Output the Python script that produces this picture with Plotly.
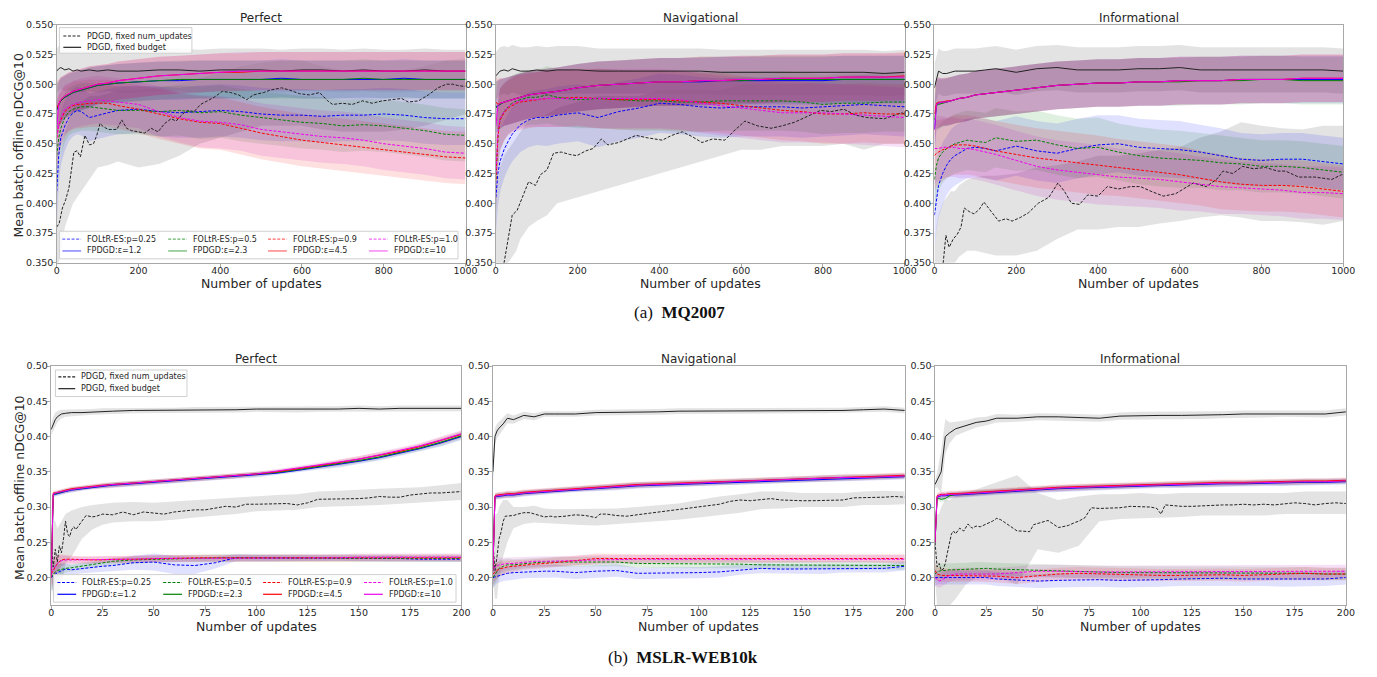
import plotly.graph_objects as go

# ============================ DATA ============================
X_TOP = [0, 5, 10, 20, 30, 40, 50, 60, 80, 100, 125, 150, 200, 250, 300, 350, 400, 450, 500, 550,
         600, 650, 700, 750, 800, 850, 900, 950, 1000]
X_BOT = [0, 1, 2, 3, 5, 7, 10, 15, 20, 25, 30, 40, 50, 60, 70, 80, 90, 100, 110, 120,
         130, 140, 150, 160, 170, 180, 190, 200]

X_TICKS_TOP = [0, 200, 400, 600, 800, 1000]
Y_TICKS_TOP = [0.350, 0.375, 0.400, 0.425, 0.450, 0.475, 0.500, 0.525, 0.550]
X_TICKS_BOT = [0, 25, 50, 75, 100, 125, 150, 175, 200]
Y_TICKS_BOT = [0.20, 0.25, 0.30, 0.35, 0.40, 0.45, 0.50]

PANEL_TITLES = ["Perfect", "Navigational", "Informational"]
PDGD_LABELS = ["PDGD, fixed num_updates", "PDGD, fixed budget"]
FOLTR_LABELS = ["FOLtR-ES:p=0.25", "FOLtR-ES:p=0.5", "FOLtR-ES:p=0.9", "FOLtR-ES:p=1.0"]
FPDGD_LABELS = ["FPDGD:ε=1.2", "FPDGD:ε=2.3", "FPDGD:ε=4.5", "FPDGD:ε=10"]
CAPTIONS = ["(a)  <b>MQ2007</b>", "(b)  <b>MSLR-WEB10k</b>"]
Y_LABEL = "Mean batch offline nDCG@10"
X_LABEL = "Number of updates"

# ---------- MQ2007 / Perfect ----------
mqp_budget = [0.511, 0.513, 0.514, 0.512, 0.513, 0.511, 0.512, 0.511, 0.512, 0.511,
              0.512, 0.511, 0.511, 0.512, 0.512, 0.511, 0.512, 0.512, 0.512, 0.511,
              0.512, 0.512, 0.511, 0.512, 0.511, 0.511, 0.512, 0.511, 0.511]
mqp_budget_sd = [0.019, 0.019, 0.018, 0.018, 0.018, 0.018, 0.018, 0.018, 0.018, 0.018,
                 0.018, 0.018, 0.018, 0.018, 0.018, 0.018, 0.018, 0.018, 0.018, 0.018,
                 0.018, 0.018, 0.018, 0.018, 0.018, 0.018, 0.018, 0.018, 0.018]
mqp_nu_x = [0, 6, 14, 22, 30, 42, 50, 58, 69, 80, 90, 98, 106, 115, 127, 147, 159, 171, 183, 199,
            215, 231, 248, 264, 280, 292, 308, 320, 336, 352, 369, 385, 405, 425, 445, 465, 481, 506, 522, 550,
            570, 594, 618, 643, 663, 675, 699, 723, 748, 772, 796, 820, 844, 860, 885, 909, 933, 953, 969, 980,
            1000]
mqp_nu_y = [0.380, 0.383, 0.396, 0.403, 0.413, 0.443, 0.444, 0.439, 0.457, 0.449,
            0.450, 0.457, 0.467, 0.464, 0.462, 0.462, 0.470, 0.463, 0.461, 0.460,
            0.459, 0.463, 0.460, 0.467, 0.471, 0.469, 0.475, 0.478, 0.477, 0.483,
            0.486, 0.489, 0.494, 0.493, 0.491, 0.487, 0.491, 0.493, 0.495, 0.497,
            0.495, 0.492, 0.491, 0.493, 0.486, 0.483, 0.484, 0.483, 0.486, 0.484,
            0.486, 0.487, 0.488, 0.485, 0.486, 0.491, 0.497, 0.500, 0.500, 0.499,
            0.498]
mqp_nu_lo = [0.350, 0.350, 0.360, 0.380, 0.390, 0.400, 0.405, 0.410, 0.420, 0.430,
             0.432, 0.435, 0.430, 0.433, 0.440, 0.450, 0.455, 0.460, 0.465, 0.465,
             0.465, 0.462, 0.460, 0.460, 0.460, 0.462, 0.465, 0.470, 0.475]
mqp_nu_hi = [0.420, 0.430, 0.440, 0.460, 0.470, 0.480, 0.485, 0.485, 0.490, 0.490,
             0.492, 0.495, 0.495, 0.497, 0.500, 0.505, 0.510, 0.515, 0.518, 0.520,
             0.520, 0.515, 0.512, 0.510, 0.510, 0.512, 0.515, 0.520, 0.522]
mqp_fp_blue = [0.478, 0.483, 0.486, 0.489, 0.491, 0.493, 0.494, 0.495, 0.497, 0.499,
               0.500, 0.501, 0.502, 0.503, 0.503, 0.504, 0.504, 0.504, 0.504, 0.505,
               0.504, 0.504, 0.504, 0.504, 0.504, 0.505, 0.504, 0.504, 0.504]
mqp_fp_green = [0.479, 0.483, 0.486, 0.489, 0.491, 0.493, 0.494, 0.495, 0.497, 0.499,
                0.500, 0.501, 0.502, 0.503, 0.504, 0.504, 0.504, 0.504, 0.504, 0.504,
                0.504, 0.504, 0.504, 0.505, 0.504, 0.504, 0.504, 0.504, 0.504]
mqp_fp_red = [0.480, 0.484, 0.487, 0.490, 0.492, 0.494, 0.495, 0.496, 0.498, 0.500,
              0.501, 0.503, 0.505, 0.507, 0.508, 0.509, 0.510, 0.510, 0.511, 0.511,
              0.511, 0.511, 0.511, 0.511, 0.511, 0.511, 0.511, 0.511, 0.511]
mqp_fp_mag = [0.462, 0.483, 0.487, 0.490, 0.492, 0.494, 0.495, 0.496, 0.498, 0.500,
              0.501, 0.503, 0.505, 0.507, 0.508, 0.509, 0.510, 0.511, 0.511, 0.511,
              0.511, 0.511, 0.511, 0.511, 0.511, 0.511, 0.511, 0.511, 0.511]
mqp_fp_sd = [0.022, 0.020, 0.019, 0.018, 0.018, 0.017, 0.017, 0.017, 0.017, 0.016,
             0.016, 0.016, 0.016, 0.016, 0.016, 0.016, 0.016, 0.016, 0.016, 0.016,
             0.016, 0.016, 0.016, 0.016, 0.016, 0.016, 0.016, 0.016, 0.016]
mqp_fo_blue = [0.410, 0.440, 0.455, 0.465, 0.472, 0.476, 0.478, 0.477, 0.472, 0.474,
               0.476, 0.478, 0.479, 0.477, 0.476, 0.477, 0.478, 0.477, 0.475, 0.474,
               0.474, 0.473, 0.474, 0.474, 0.475, 0.474, 0.472, 0.471, 0.471]
mqp_fo_green = [0.440, 0.455, 0.463, 0.472, 0.477, 0.479, 0.480, 0.481, 0.481, 0.480,
                0.479, 0.478, 0.478, 0.477, 0.478, 0.476, 0.477, 0.474, 0.472, 0.470,
                0.468, 0.467, 0.465, 0.466, 0.465, 0.463, 0.461, 0.458, 0.457]
mqp_fo_red = [0.455, 0.465, 0.470, 0.477, 0.480, 0.482, 0.483, 0.483, 0.484, 0.484,
              0.484, 0.482, 0.479, 0.475, 0.471, 0.468, 0.467, 0.463, 0.459, 0.456,
              0.453, 0.451, 0.449, 0.447, 0.445, 0.443, 0.441, 0.439, 0.438]
mqp_fo_mag = [0.455, 0.466, 0.472, 0.479, 0.481, 0.483, 0.484, 0.485, 0.486, 0.487,
              0.486, 0.485, 0.483, 0.477, 0.472, 0.469, 0.468, 0.466, 0.462, 0.460,
              0.458, 0.456, 0.455, 0.453, 0.450, 0.448, 0.446, 0.443, 0.442]
mqp_fo_sd = [0.030, 0.026, 0.023, 0.021, 0.020, 0.020, 0.020, 0.020, 0.020, 0.020,
             0.020, 0.020, 0.020, 0.021, 0.021, 0.022, 0.022, 0.022, 0.022, 0.022,
             0.022, 0.022, 0.022, 0.022, 0.022, 0.022, 0.022, 0.022, 0.022]

# ---------- MQ2007 / Navigational ----------
mqn_budget = [0.507, 0.509, 0.511, 0.512, 0.511, 0.513, 0.512, 0.511, 0.511, 0.512,
              0.511, 0.512, 0.512, 0.511, 0.511, 0.511, 0.511, 0.511, 0.511, 0.510,
              0.510, 0.510, 0.510, 0.510, 0.510, 0.510, 0.510, 0.509, 0.510]
mqn_budget_sd = [0.020, 0.020, 0.020, 0.020, 0.020, 0.020, 0.020, 0.020, 0.020, 0.020,
                 0.020, 0.020, 0.020, 0.019, 0.019, 0.019, 0.019, 0.019, 0.019, 0.019,
                 0.019, 0.019, 0.019, 0.019, 0.019, 0.019, 0.019, 0.019, 0.019]
mqn_nu_x = [0, 10, 20, 40, 52, 65, 80, 97, 109, 125, 141, 160, 180, 198, 220, 238, 258, 274, 300, 343,
            370, 407, 430, 456, 480, 504, 530, 560, 580, 609, 640, 673, 700, 730, 760, 794, 820, 851, 880, 907,
            950, 992, 1000]
mqn_nu_y = [0.300, 0.330, 0.350, 0.390, 0.394, 0.405, 0.418, 0.415, 0.424, 0.428,
            0.442, 0.443, 0.441, 0.440, 0.444, 0.446, 0.454, 0.449, 0.451, 0.457,
            0.455, 0.453, 0.457, 0.460, 0.456, 0.451, 0.454, 0.453, 0.460, 0.469,
            0.465, 0.463, 0.465, 0.468, 0.473, 0.478, 0.477, 0.479, 0.474, 0.472,
            0.471, 0.476, 0.475]
mqn_nu_lo = [0.280, 0.300, 0.320, 0.340, 0.350, 0.355, 0.360, 0.370, 0.380, 0.385,
             0.390, 0.400, 0.405, 0.410, 0.415, 0.420, 0.425, 0.430, 0.435, 0.440,
             0.445, 0.445, 0.448, 0.448, 0.448, 0.450, 0.445, 0.450, 0.450]
mqn_nu_hi = [0.400, 0.420, 0.430, 0.440, 0.445, 0.450, 0.455, 0.460, 0.470, 0.470,
             0.475, 0.480, 0.485, 0.490, 0.490, 0.490, 0.495, 0.495, 0.495, 0.495,
             0.500, 0.500, 0.500, 0.500, 0.505, 0.505, 0.505, 0.505, 0.505]
mqn_fp_blue = [0.481, 0.482, 0.483, 0.485, 0.486, 0.487, 0.488, 0.489, 0.491, 0.492,
               0.493, 0.494, 0.497, 0.499, 0.500, 0.501, 0.502, 0.502, 0.502, 0.503,
               0.503, 0.503, 0.503, 0.503, 0.503, 0.504, 0.504, 0.504, 0.504]
mqn_fp_green = [0.480, 0.482, 0.483, 0.485, 0.486, 0.487, 0.488, 0.489, 0.491, 0.492,
                0.493, 0.494, 0.497, 0.499, 0.500, 0.501, 0.502, 0.502, 0.503, 0.503,
                0.503, 0.504, 0.504, 0.504, 0.504, 0.504, 0.504, 0.504, 0.504]
mqn_fp_red = [0.485, 0.483, 0.484, 0.485, 0.486, 0.487, 0.488, 0.489, 0.491, 0.492,
              0.493, 0.494, 0.497, 0.499, 0.500, 0.501, 0.502, 0.502, 0.503, 0.503,
              0.504, 0.504, 0.505, 0.505, 0.505, 0.506, 0.506, 0.506, 0.507]
mqn_fp_mag = [0.465, 0.482, 0.484, 0.485, 0.486, 0.487, 0.488, 0.489, 0.491, 0.492,
              0.493, 0.494, 0.497, 0.499, 0.500, 0.501, 0.502, 0.502, 0.503, 0.503,
              0.504, 0.504, 0.505, 0.505, 0.505, 0.506, 0.506, 0.506, 0.506]
mqn_fp_sd = [0.022, 0.021, 0.021, 0.020, 0.020, 0.020, 0.020, 0.020, 0.020, 0.020,
             0.020, 0.020, 0.020, 0.020, 0.020, 0.020, 0.020, 0.020, 0.020, 0.020,
             0.020, 0.020, 0.020, 0.020, 0.020, 0.020, 0.020, 0.020, 0.020]
mqn_fo_blue = [0.405, 0.425, 0.435, 0.445, 0.452, 0.458, 0.462, 0.466, 0.470, 0.472,
               0.472, 0.474, 0.476, 0.472, 0.477, 0.480, 0.484, 0.483, 0.481, 0.480,
               0.481, 0.481, 0.481, 0.480, 0.481, 0.482, 0.483, 0.482, 0.481]
mqn_fo_green = [0.420, 0.455, 0.470, 0.477, 0.481, 0.484, 0.486, 0.487, 0.489, 0.489,
                0.491, 0.489, 0.487, 0.488, 0.487, 0.486, 0.486, 0.485, 0.485, 0.486,
                0.486, 0.486, 0.486, 0.485, 0.483, 0.484, 0.484, 0.485, 0.485]
mqn_fo_red = [0.420, 0.455, 0.470, 0.476, 0.480, 0.482, 0.484, 0.485, 0.486, 0.487,
              0.488, 0.488, 0.489, 0.488, 0.487, 0.487, 0.487, 0.486, 0.485, 0.484,
              0.482, 0.480, 0.478, 0.477, 0.475, 0.475, 0.476, 0.475, 0.475]
mqn_fo_mag = [0.425, 0.458, 0.471, 0.477, 0.481, 0.483, 0.485, 0.486, 0.487, 0.487,
              0.488, 0.488, 0.488, 0.488, 0.488, 0.488, 0.488, 0.487, 0.484, 0.482,
              0.480, 0.478, 0.476, 0.476, 0.476, 0.475, 0.474, 0.473, 0.472]
mqn_fo_sd = [0.030, 0.028, 0.026, 0.024, 0.023, 0.023, 0.023, 0.023, 0.023, 0.023,
             0.024, 0.024, 0.024, 0.025, 0.025, 0.025, 0.025, 0.025, 0.025, 0.025,
             0.025, 0.025, 0.025, 0.025, 0.025, 0.025, 0.025, 0.025, 0.025]

# ---------- MQ2007 / Informational ----------
mqi_budget = [0.497, 0.505, 0.511, 0.509, 0.509, 0.510, 0.511, 0.511, 0.511, 0.511,
              0.512, 0.513, 0.510, 0.513, 0.514, 0.512, 0.512, 0.512, 0.513, 0.513,
              0.514, 0.512, 0.512, 0.512, 0.512, 0.512, 0.512, 0.512, 0.511]
mqi_budget_sd = [0.020, 0.019, 0.019, 0.019, 0.019, 0.019, 0.019, 0.019, 0.019, 0.019,
                 0.019, 0.019, 0.019, 0.019, 0.019, 0.019, 0.019, 0.019, 0.019, 0.019,
                 0.019, 0.019, 0.019, 0.019, 0.019, 0.019, 0.019, 0.019, 0.019]
mqi_nu_x = [0, 10, 20, 28, 36, 46, 56, 65, 73, 85, 97, 110, 121, 135, 157, 175, 190, 210, 230, 254,
            280, 302, 318, 335, 355, 375, 400, 423, 450, 480, 504, 530, 560, 590, 633, 665, 690, 706, 730, 754,
            780, 810, 840, 859, 891, 930, 972, 996, 1000]
mqi_nu_y = [0.300, 0.320, 0.345, 0.373, 0.363, 0.370, 0.374, 0.380, 0.396, 0.393,
            0.391, 0.395, 0.401, 0.395, 0.385, 0.387, 0.385, 0.388, 0.392, 0.400,
            0.405, 0.417, 0.410, 0.400, 0.399, 0.407, 0.406, 0.414, 0.412, 0.414,
            0.414, 0.410, 0.406, 0.408, 0.417, 0.414, 0.420, 0.427, 0.425, 0.431,
            0.429, 0.430, 0.427, 0.427, 0.422, 0.422, 0.420, 0.424, 0.424]
mqi_nu_lo = [0.250, 0.280, 0.300, 0.330, 0.340, 0.350, 0.350, 0.355, 0.360, 0.360,
             0.358, 0.356, 0.356, 0.360, 0.370, 0.378, 0.378, 0.380, 0.380, 0.383,
             0.385, 0.388, 0.390, 0.388, 0.385, 0.385, 0.384, 0.382, 0.385]
mqi_nu_hi = [0.360, 0.380, 0.390, 0.400, 0.405, 0.410, 0.410, 0.415, 0.420, 0.422,
             0.423, 0.423, 0.425, 0.430, 0.432, 0.435, 0.440, 0.440, 0.442, 0.445,
             0.447, 0.455, 0.460, 0.468, 0.465, 0.463, 0.462, 0.465, 0.465]
mqi_fp_blue = [0.462, 0.483, 0.484, 0.485, 0.485, 0.486, 0.487, 0.488, 0.489, 0.491,
               0.492, 0.493, 0.495, 0.497, 0.499, 0.500, 0.501, 0.501, 0.502, 0.502,
               0.503, 0.503, 0.503, 0.504, 0.504, 0.504, 0.504, 0.504, 0.504]
mqi_fp_green = [0.470, 0.482, 0.483, 0.484, 0.485, 0.486, 0.487, 0.488, 0.489, 0.491,
                0.492, 0.493, 0.495, 0.497, 0.499, 0.500, 0.501, 0.501, 0.502, 0.502,
                0.502, 0.503, 0.503, 0.503, 0.504, 0.504, 0.503, 0.503, 0.503]
mqi_fp_red = [0.475, 0.484, 0.485, 0.485, 0.486, 0.486, 0.487, 0.488, 0.489, 0.491,
              0.492, 0.493, 0.495, 0.497, 0.499, 0.500, 0.501, 0.501, 0.502, 0.502,
              0.503, 0.503, 0.503, 0.504, 0.504, 0.504, 0.505, 0.505, 0.505]
mqi_fp_mag = [0.462, 0.483, 0.484, 0.485, 0.485, 0.486, 0.487, 0.488, 0.489, 0.491,
              0.492, 0.493, 0.495, 0.497, 0.499, 0.500, 0.501, 0.501, 0.502, 0.502,
              0.503, 0.503, 0.503, 0.504, 0.504, 0.504, 0.505, 0.505, 0.505]
mqi_fp_sd = [0.022, 0.021, 0.021, 0.020, 0.020, 0.020, 0.020, 0.020, 0.020, 0.020,
             0.020, 0.020, 0.020, 0.020, 0.020, 0.020, 0.020, 0.020, 0.020, 0.020,
             0.020, 0.020, 0.020, 0.020, 0.020, 0.020, 0.020, 0.020, 0.020]
mqi_fo_blue = [0.390, 0.405, 0.415, 0.425, 0.432, 0.437, 0.440, 0.442, 0.446, 0.447,
               0.446, 0.444, 0.448, 0.444, 0.442, 0.446, 0.449, 0.450, 0.447, 0.446,
               0.445, 0.443, 0.440, 0.437, 0.436, 0.437, 0.437, 0.435, 0.433]
mqi_fo_green = [0.420, 0.432, 0.438, 0.443, 0.446, 0.448, 0.450, 0.451, 0.453, 0.452,
                0.451, 0.455, 0.452, 0.453, 0.449, 0.446, 0.447, 0.443, 0.440, 0.438,
                0.437, 0.436, 0.434, 0.433, 0.431, 0.431, 0.430, 0.428, 0.426]
mqi_fo_red = [0.440, 0.442, 0.443, 0.445, 0.446, 0.448, 0.449, 0.449, 0.449, 0.448,
              0.446, 0.444, 0.441, 0.438, 0.436, 0.434, 0.432, 0.430, 0.428, 0.426,
              0.424, 0.421, 0.418, 0.416, 0.415, 0.415, 0.414, 0.412, 0.410]
mqi_fo_mag = [0.446, 0.446, 0.446, 0.447, 0.447, 0.447, 0.447, 0.446, 0.446, 0.445,
              0.443, 0.441, 0.436, 0.431, 0.428, 0.426, 0.424, 0.422, 0.421, 0.420,
              0.418, 0.416, 0.414, 0.413, 0.412, 0.411, 0.409, 0.409, 0.408]
mqi_fo_sd = [0.030, 0.028, 0.027, 0.026, 0.025, 0.025, 0.025, 0.025, 0.025, 0.025,
             0.025, 0.025, 0.025, 0.025, 0.025, 0.025, 0.025, 0.024, 0.024, 0.024,
             0.024, 0.023, 0.023, 0.022, 0.022, 0.022, 0.022, 0.022, 0.022]

# ---------- MSLR-WEB10k / Perfect ----------
msp_budget = [0.410, 0.418, 0.424, 0.428, 0.432, 0.433, 0.434, 0.434, 0.435, 0.436,
              0.436, 0.437, 0.437, 0.437, 0.438, 0.438, 0.438, 0.439, 0.439, 0.438,
              0.439, 0.439, 0.440, 0.439, 0.440, 0.440, 0.440, 0.440]
msp_budget_sd = [0.008, 0.010, 0.010, 0.008, 0.006, 0.005, 0.005, 0.004, 0.004, 0.004,
                 0.004, 0.004, 0.004, 0.004, 0.004, 0.004, 0.004, 0.004, 0.004, 0.004,
                 0.004, 0.004, 0.004, 0.004, 0.004, 0.004, 0.004, 0.004]
msp_nu_x = [0, 1, 2, 3, 4, 5, 6, 7, 8, 9, 10, 11, 12, 14, 17, 20, 22, 25, 30, 35,
            40, 45, 50, 55, 60, 65, 70, 75, 80, 85, 90, 95, 100, 105, 110, 115, 120, 125, 130, 135,
            140, 145, 150, 155, 160, 165, 170, 175, 180, 185, 190, 195, 200]
msp_nu_y = [0.250, 0.215, 0.240, 0.222, 0.245, 0.235, 0.255, 0.280, 0.262, 0.258,
            0.268, 0.272, 0.268, 0.276, 0.288, 0.286, 0.287, 0.290, 0.289, 0.293,
            0.289, 0.293, 0.291, 0.290, 0.293, 0.295, 0.296, 0.296, 0.298, 0.301,
            0.300, 0.304, 0.304, 0.304, 0.305, 0.305, 0.303, 0.306, 0.311, 0.311,
            0.311, 0.312, 0.312, 0.313, 0.315, 0.314, 0.314, 0.317, 0.319, 0.320,
            0.320, 0.321, 0.322]
msp_nu_lo = [0.200, 0.170, 0.170, 0.170, 0.190, 0.220, 0.230, 0.255, 0.268, 0.275,
             0.278, 0.280, 0.280, 0.282, 0.285, 0.288, 0.290, 0.294, 0.295, 0.296,
             0.300, 0.301, 0.302, 0.303, 0.304, 0.306, 0.308, 0.310]
msp_nu_hi = [0.300, 0.280, 0.280, 0.270, 0.280, 0.290, 0.295, 0.300, 0.303, 0.305,
             0.306, 0.307, 0.306, 0.308, 0.310, 0.312, 0.314, 0.316, 0.317, 0.318,
             0.322, 0.323, 0.325, 0.326, 0.327, 0.328, 0.331, 0.334]
msp_fp_blue = [0.200, 0.317, 0.318, 0.319, 0.320, 0.322, 0.324, 0.326, 0.328, 0.330,
               0.331, 0.333, 0.335, 0.337, 0.339, 0.341, 0.343, 0.345, 0.348, 0.352,
               0.356, 0.360, 0.365, 0.370, 0.376, 0.383, 0.391, 0.400]
msp_fp_green = [0.200, 0.318, 0.319, 0.320, 0.321, 0.323, 0.325, 0.327, 0.329, 0.331,
                0.332, 0.334, 0.336, 0.338, 0.340, 0.342, 0.344, 0.346, 0.349, 0.353,
                0.357, 0.361, 0.366, 0.371, 0.377, 0.384, 0.392, 0.401]
msp_fp_red = [0.200, 0.320, 0.320, 0.321, 0.322, 0.324, 0.326, 0.328, 0.330, 0.331,
              0.332, 0.334, 0.336, 0.338, 0.340, 0.342, 0.344, 0.347, 0.350, 0.354,
              0.358, 0.363, 0.368, 0.373, 0.379, 0.386, 0.394, 0.403]
msp_fp_mag = [0.200, 0.319, 0.320, 0.321, 0.322, 0.323, 0.325, 0.327, 0.329, 0.331,
              0.332, 0.334, 0.336, 0.338, 0.340, 0.342, 0.344, 0.347, 0.351, 0.355,
              0.359, 0.363, 0.368, 0.374, 0.380, 0.387, 0.395, 0.404]
msp_fp_sd = [0.005, 0.003, 0.003, 0.003, 0.003, 0.003, 0.003, 0.003, 0.003, 0.003,
             0.003, 0.003, 0.003, 0.003, 0.003, 0.003, 0.003, 0.003, 0.003, 0.003,
             0.003, 0.004, 0.004, 0.004, 0.004, 0.004, 0.005, 0.005]
msp_fo_blue = [0.200, 0.203, 0.205, 0.207, 0.210, 0.212, 0.211, 0.213, 0.215, 0.216,
               0.217, 0.221, 0.222, 0.218, 0.217, 0.221, 0.228, 0.228, 0.228, 0.228,
               0.228, 0.228, 0.227, 0.227, 0.227, 0.226, 0.226, 0.226]
msp_fo_green = [0.200, 0.205, 0.208, 0.210, 0.212, 0.213, 0.214, 0.216, 0.219, 0.221,
                0.223, 0.225, 0.226, 0.227, 0.228, 0.228, 0.228, 0.228, 0.228, 0.228,
                0.228, 0.228, 0.228, 0.228, 0.228, 0.227, 0.227, 0.227]
msp_fo_red = [0.205, 0.210, 0.215, 0.220, 0.225, 0.226, 0.226, 0.225, 0.225, 0.225,
              0.226, 0.226, 0.227, 0.227, 0.228, 0.228, 0.228, 0.228, 0.228, 0.228,
              0.228, 0.228, 0.228, 0.228, 0.228, 0.228, 0.228, 0.228]
msp_fo_mag = [0.208, 0.212, 0.216, 0.220, 0.224, 0.225, 0.225, 0.225, 0.225, 0.226,
              0.226, 0.226, 0.227, 0.227, 0.228, 0.228, 0.228, 0.228, 0.228, 0.228,
              0.228, 0.228, 0.229, 0.229, 0.229, 0.229, 0.229, 0.229]
msp_fo_sd = [0.020, 0.018, 0.015, 0.012, 0.008, 0.006, 0.005, 0.005, 0.005, 0.005,
             0.005, 0.005, 0.005, 0.005, 0.005, 0.005, 0.005, 0.005, 0.005, 0.005,
             0.005, 0.005, 0.005, 0.005, 0.005, 0.005, 0.005, 0.005]
msp_fo_blue_sd = [0.020, 0.018, 0.015, 0.012, 0.010, 0.008, 0.007, 0.007, 0.007, 0.008,
                  0.008, 0.010, 0.012, 0.013, 0.012, 0.008, 0.005, 0.004, 0.004, 0.004,
                  0.004, 0.004, 0.004, 0.004, 0.004, 0.004, 0.004, 0.004]

# ---------- MSLR-WEB10k / Navigational ----------
msn_budget = [0.350, 0.400, 0.408, 0.412, 0.418, 0.426, 0.424, 0.430, 0.428, 0.432,
              0.432, 0.432, 0.434, 0.434, 0.435, 0.435, 0.436, 0.436, 0.436, 0.436,
              0.436, 0.437, 0.437, 0.437, 0.437, 0.438, 0.439, 0.437]
msn_budget_sd = [0.020, 0.012, 0.010, 0.009, 0.008, 0.007, 0.006, 0.005, 0.005, 0.004,
                 0.004, 0.004, 0.004, 0.004, 0.004, 0.004, 0.004, 0.004, 0.004, 0.004,
                 0.004, 0.004, 0.004, 0.004, 0.004, 0.004, 0.004, 0.004]
msn_nu_x = [0, 1, 2, 3, 4, 5, 6, 8, 10, 12, 15, 18, 20, 22, 25, 28, 30, 35, 40, 45,
            50, 52, 55, 60, 65, 70, 75, 80, 85, 90, 95, 100, 105, 110, 115, 120, 125, 130, 135, 140,
            145, 150, 155, 160, 165, 170, 175, 180, 185, 190, 195, 200]
msn_nu_y = [0.250, 0.210, 0.230, 0.255, 0.265, 0.280, 0.287, 0.287, 0.288, 0.290,
            0.292, 0.292, 0.290, 0.288, 0.286, 0.287, 0.286, 0.287, 0.289, 0.288,
            0.285, 0.290, 0.290, 0.288, 0.287, 0.289, 0.291, 0.292, 0.295, 0.296,
            0.298, 0.300, 0.302, 0.304, 0.308, 0.310, 0.309, 0.310, 0.312, 0.310,
            0.309, 0.309, 0.309, 0.309, 0.309, 0.310, 0.313, 0.313, 0.314, 0.314,
            0.315, 0.314]
msn_nu_lo = [0.200, 0.170, 0.170, 0.200, 0.230, 0.250, 0.270, 0.276, 0.278, 0.278,
             0.277, 0.275, 0.274, 0.276, 0.278, 0.280, 0.282, 0.285, 0.288, 0.292,
             0.297, 0.298, 0.300, 0.300, 0.300, 0.303, 0.303, 0.304]
msn_nu_hi = [0.300, 0.290, 0.290, 0.300, 0.310, 0.310, 0.300, 0.300, 0.302, 0.298,
             0.297, 0.297, 0.298, 0.298, 0.300, 0.302, 0.305, 0.310, 0.315, 0.318,
             0.322, 0.322, 0.320, 0.320, 0.320, 0.322, 0.323, 0.322]
msn_fp_blue = [0.210, 0.314, 0.315, 0.315, 0.316, 0.317, 0.317, 0.319, 0.320, 0.322,
               0.323, 0.325, 0.327, 0.328, 0.330, 0.331, 0.332, 0.334, 0.335, 0.336,
               0.337, 0.338, 0.339, 0.340, 0.341, 0.341, 0.342, 0.343]
msn_fp_green = [0.210, 0.315, 0.316, 0.316, 0.317, 0.318, 0.318, 0.320, 0.321, 0.323,
                0.324, 0.326, 0.328, 0.329, 0.331, 0.332, 0.333, 0.335, 0.336, 0.337,
                0.338, 0.339, 0.340, 0.341, 0.342, 0.342, 0.343, 0.344]
msn_fp_red = [0.210, 0.316, 0.317, 0.317, 0.318, 0.319, 0.319, 0.321, 0.322, 0.324,
              0.325, 0.327, 0.329, 0.330, 0.332, 0.333, 0.334, 0.336, 0.337, 0.338,
              0.339, 0.340, 0.341, 0.342, 0.343, 0.343, 0.344, 0.345]
msn_fp_mag = [0.210, 0.315, 0.316, 0.316, 0.317, 0.318, 0.318, 0.320, 0.321, 0.323,
              0.324, 0.326, 0.328, 0.329, 0.331, 0.332, 0.333, 0.335, 0.336, 0.337,
              0.338, 0.339, 0.340, 0.341, 0.342, 0.342, 0.343, 0.344]
msn_fp_sd = [0.010, 0.004, 0.004, 0.004, 0.004, 0.004, 0.004, 0.004, 0.004, 0.004,
             0.004, 0.004, 0.004, 0.004, 0.004, 0.004, 0.004, 0.004, 0.004, 0.004,
             0.004, 0.004, 0.004, 0.004, 0.004, 0.004, 0.004, 0.004]
msn_fo_blue = [0.200, 0.201, 0.202, 0.203, 0.205, 0.206, 0.207, 0.208, 0.208, 0.209,
               0.209, 0.207, 0.209, 0.210, 0.206, 0.206, 0.207, 0.207, 0.208, 0.211,
               0.213, 0.212, 0.212, 0.212, 0.213, 0.213, 0.213, 0.216]
msn_fo_green = [0.200, 0.205, 0.210, 0.213, 0.216, 0.218, 0.218, 0.220, 0.221, 0.222,
                0.222, 0.222, 0.223, 0.222, 0.220, 0.220, 0.220, 0.220, 0.219, 0.219,
                0.218, 0.218, 0.218, 0.218, 0.217, 0.217, 0.217, 0.217]
msn_fo_red = [0.205, 0.208, 0.210, 0.212, 0.214, 0.215, 0.216, 0.218, 0.219, 0.220,
              0.221, 0.224, 0.227, 0.227, 0.227, 0.227, 0.227, 0.227, 0.227, 0.227,
              0.228, 0.228, 0.228, 0.228, 0.228, 0.228, 0.228, 0.227]
msn_fo_mag = [0.213, 0.215, 0.217, 0.218, 0.219, 0.220, 0.220, 0.222, 0.223, 0.223,
              0.223, 0.224, 0.225, 0.226, 0.226, 0.226, 0.226, 0.226, 0.226, 0.226,
              0.226, 0.226, 0.227, 0.227, 0.227, 0.227, 0.227, 0.226]
msn_fo_sd = [0.015, 0.013, 0.012, 0.011, 0.010, 0.009, 0.008, 0.007, 0.007, 0.007,
             0.007, 0.007, 0.007, 0.006, 0.006, 0.006, 0.006, 0.006, 0.006, 0.006,
             0.006, 0.006, 0.006, 0.006, 0.006, 0.006, 0.006, 0.006]
msn_fo_blue_sd = [0.015, 0.012, 0.010, 0.010, 0.010, 0.010, 0.010, 0.009, 0.009, 0.009,
                  0.009, 0.009, 0.009, 0.009, 0.008, 0.008, 0.008, 0.008, 0.008, 0.007,
                  0.007, 0.007, 0.007, 0.007, 0.006, 0.006, 0.006, 0.006]

# ---------- MSLR-WEB10k / Informational ----------
msi_budget = [0.332, 0.338, 0.345, 0.350, 0.400, 0.405, 0.411, 0.415, 0.420, 0.422,
              0.426, 0.426, 0.428, 0.428, 0.427, 0.426, 0.429, 0.430, 0.430, 0.430,
              0.430, 0.431, 0.432, 0.432, 0.433, 0.433, 0.432, 0.435]
msi_budget_sd = [0.005, 0.010, 0.020, 0.030, 0.025, 0.015, 0.010, 0.008, 0.007, 0.006,
                 0.006, 0.005, 0.005, 0.005, 0.005, 0.005, 0.005, 0.005, 0.005, 0.005,
                 0.005, 0.005, 0.005, 0.005, 0.005, 0.005, 0.005, 0.005]
msi_nu_x = [0, 1, 2, 3, 4, 5, 6, 7, 8, 9, 10, 12, 14, 16, 18, 20, 22, 25, 28, 30,
            32, 34, 36, 38, 40, 42, 44, 46, 48, 50, 52, 55, 58, 60, 62, 65, 68, 70, 73, 76,
            80, 85, 90, 95, 100, 105, 108, 110, 112, 115, 120, 125, 130, 135, 140, 145, 150, 155, 160, 165,
            170, 175, 180, 185, 190, 195, 200]
msi_nu_y = [0.250, 0.215, 0.220, 0.210, 0.212, 0.220, 0.235, 0.250, 0.262, 0.266,
            0.262, 0.270, 0.266, 0.276, 0.270, 0.273, 0.272, 0.276, 0.280, 0.284,
            0.282, 0.278, 0.274, 0.270, 0.266, 0.266, 0.265, 0.265, 0.275, 0.277,
            0.279, 0.281, 0.275, 0.271, 0.272, 0.274, 0.278, 0.280, 0.285, 0.299,
            0.298, 0.298, 0.299, 0.301, 0.301, 0.300, 0.298, 0.290, 0.303, 0.302,
            0.301, 0.301, 0.302, 0.303, 0.303, 0.303, 0.304, 0.303, 0.304, 0.303,
            0.304, 0.306, 0.305, 0.303, 0.305, 0.306, 0.305]
msi_nu_lo = [0.200, 0.160, 0.160, 0.160, 0.160, 0.160, 0.170, 0.190, 0.200, 0.200,
             0.200, 0.190, 0.240, 0.235, 0.245, 0.280, 0.283, 0.285, 0.285, 0.286,
             0.288, 0.288, 0.288, 0.288, 0.290, 0.290, 0.290, 0.290]
msi_nu_hi = [0.300, 0.290, 0.290, 0.300, 0.310, 0.310, 0.315, 0.320, 0.325, 0.330,
             0.335, 0.345, 0.320, 0.310, 0.315, 0.318, 0.318, 0.320, 0.318, 0.320,
             0.320, 0.320, 0.320, 0.320, 0.320, 0.322, 0.322, 0.322]
msi_fp_blue = [0.250, 0.314, 0.315, 0.316, 0.316, 0.317, 0.317, 0.318, 0.319, 0.320,
               0.321, 0.323, 0.325, 0.326, 0.327, 0.328, 0.329, 0.330, 0.331, 0.331,
               0.332, 0.333, 0.333, 0.334, 0.334, 0.335, 0.335, 0.336]
msi_fp_green = [0.250, 0.313, 0.312, 0.311, 0.312, 0.316, 0.318, 0.319, 0.320, 0.321,
                0.322, 0.324, 0.326, 0.327, 0.328, 0.329, 0.330, 0.331, 0.332, 0.332,
                0.333, 0.334, 0.334, 0.335, 0.335, 0.336, 0.336, 0.337]
msi_fp_red = [0.250, 0.316, 0.317, 0.318, 0.318, 0.319, 0.319, 0.320, 0.321, 0.322,
              0.323, 0.325, 0.327, 0.328, 0.329, 0.330, 0.331, 0.332, 0.333, 0.333,
              0.334, 0.335, 0.335, 0.336, 0.336, 0.337, 0.337, 0.338]
msi_fp_mag = [0.250, 0.315, 0.316, 0.317, 0.317, 0.318, 0.318, 0.319, 0.320, 0.321,
              0.322, 0.324, 0.326, 0.327, 0.328, 0.329, 0.330, 0.331, 0.332, 0.332,
              0.333, 0.334, 0.334, 0.335, 0.335, 0.336, 0.336, 0.337]
msi_fp_sd = [0.010, 0.004, 0.004, 0.004, 0.004, 0.004, 0.004, 0.004, 0.004, 0.004,
             0.004, 0.004, 0.004, 0.004, 0.004, 0.004, 0.004, 0.004, 0.004, 0.004,
             0.004, 0.004, 0.004, 0.004, 0.004, 0.004, 0.004, 0.004]
msi_fo_blue = [0.200, 0.200, 0.200, 0.200, 0.200, 0.200, 0.200, 0.200, 0.200, 0.200,
               0.198, 0.196, 0.195, 0.196, 0.197, 0.197, 0.196, 0.196, 0.197, 0.198,
               0.199, 0.199, 0.198, 0.198, 0.197, 0.197, 0.198, 0.200]
msi_fo_green = [0.205, 0.208, 0.209, 0.210, 0.210, 0.211, 0.211, 0.212, 0.213, 0.213,
                0.212, 0.211, 0.210, 0.209, 0.208, 0.207, 0.207, 0.207, 0.207, 0.206,
                0.206, 0.206, 0.206, 0.206, 0.206, 0.206, 0.205, 0.205]
msi_fo_red = [0.210, 0.205, 0.204, 0.203, 0.203, 0.203, 0.203, 0.203, 0.203, 0.203,
              0.202, 0.200, 0.203, 0.205, 0.206, 0.205, 0.204, 0.203, 0.203, 0.203,
              0.204, 0.204, 0.203, 0.204, 0.205, 0.206, 0.205, 0.205]
msi_fo_mag = [0.200, 0.197, 0.195, 0.196, 0.200, 0.203, 0.205, 0.205, 0.205, 0.205,
              0.205, 0.207, 0.209, 0.209, 0.208, 0.208, 0.208, 0.208, 0.208, 0.208,
              0.208, 0.208, 0.208, 0.208, 0.208, 0.208, 0.208, 0.209]
msi_fo_sd = [0.012, 0.010, 0.010, 0.010, 0.010, 0.009, 0.009, 0.009, 0.009, 0.009,
             0.009, 0.009, 0.009, 0.009, 0.009, 0.009, 0.009, 0.009, 0.009, 0.009,
             0.009, 0.009, 0.009, 0.009, 0.009, 0.009, 0.009, 0.009]
msi_fo_blue_sd = [0.012, 0.010, 0.010, 0.010, 0.010, 0.010, 0.010, 0.010, 0.010, 0.010,
                  0.010, 0.010, 0.010, 0.010, 0.010, 0.010, 0.010, 0.010, 0.010, 0.010,
                  0.010, 0.010, 0.010, 0.010, 0.010, 0.010, 0.010, 0.010]

# ============================ LAYOUT / STYLE ============================
W, H = 1377, 677
FONT = "DejaVu Sans"
TXT = "#262626"
SPINE = "#a8a8a8"
LINE_COLORS = ["#0000ff", "#008000", "#ff0000", "#ee00ee"]
BAND_COLORS = ["rgba(0,0,255,0.12)", "rgba(0,128,0,0.12)", "rgba(255,0,0,0.12)", "rgba(191,0,191,0.12)"]
GRAY_BAND = "rgba(200,200,200,0.5)"
BLACK = "#222222"
DASH = "3px,1.6px"


def P(px):
    return px / W


def Q(py):
    return 1 - py / H


def panel(x, nu_x, nu_y, nu_lo, nu_hi, bud, bud_sd, fo, fo_sd, fp, fp_sd, box, yr, xr, xt, yt, yfmt):
    return dict(x=x, nu_x=nu_x, nu_y=nu_y, nu_lo=nu_lo, nu_hi=nu_hi, bud=bud, bud_sd=bud_sd,
                fo=fo, fo_sd=fo_sd, fp=fp, fp_sd=fp_sd, box=box, yr=yr, xr=xr, xt=xt, yt=yt, yfmt=yfmt)


TOP_Y = (19, 261)
BOT_Y = (366, 609.3)
PANELS = [
    panel(X_TOP, mqp_nu_x, mqp_nu_y, mqp_nu_lo, mqp_nu_hi, mqp_budget, mqp_budget_sd,
          [mqp_fo_blue, mqp_fo_green, mqp_fo_red, mqp_fo_mag], [mqp_fo_sd] * 4,
          [mqp_fp_blue, mqp_fp_green, mqp_fp_red, mqp_fp_mag], mqp_fp_sd,
          (54.3, 467.6) + TOP_Y, [0.35, 0.55], [0, 1000], X_TICKS_TOP, Y_TICKS_TOP, ".3f"),
    panel(X_TOP, mqn_nu_x, mqn_nu_y, mqn_nu_lo, mqn_nu_hi, mqn_budget, mqn_budget_sd,
          [mqn_fo_blue, mqn_fo_green, mqn_fo_red, mqn_fo_mag], [mqn_fo_sd] * 4,
          [mqn_fp_blue, mqn_fp_green, mqn_fp_red, mqn_fp_mag], mqn_fp_sd,
          (498.3, 911.7) + TOP_Y, [0.35, 0.55], [0, 1000], X_TICKS_TOP, Y_TICKS_TOP, ".3f"),
    panel(X_TOP, mqi_nu_x, mqi_nu_y, mqi_nu_lo, mqi_nu_hi, mqi_budget, mqi_budget_sd,
          [mqi_fo_blue, mqi_fo_green, mqi_fo_red, mqi_fo_mag], [mqi_fo_sd] * 4,
          [mqi_fp_blue, mqi_fp_green, mqi_fp_red, mqi_fp_mag], mqi_fp_sd,
          (941.7, 1355) + TOP_Y, [0.35, 0.55], [0, 1000], X_TICKS_TOP, Y_TICKS_TOP, ".3f"),
    panel(X_BOT, msp_nu_x, msp_nu_y, msp_nu_lo, msp_nu_hi, msp_budget, msp_budget_sd,
          [msp_fo_blue, msp_fo_green, msp_fo_red, msp_fo_mag],
          [msp_fo_blue_sd, msp_fo_sd, msp_fo_sd, msp_fo_sd],
          [msp_fp_blue, msp_fp_green, msp_fp_red, msp_fp_mag], msp_fp_sd,
          (48.7, 463.5) + BOT_Y, [0.1605, 0.50], [0, 200], X_TICKS_BOT, Y_TICKS_BOT, ".2f"),
    panel(X_BOT, msn_nu_x, msn_nu_y, msn_nu_lo, msn_nu_hi, msn_budget, msn_budget_sd,
          [msn_fo_blue, msn_fo_green, msn_fo_red, msn_fo_mag],
          [msn_fo_blue_sd, msn_fo_sd, msn_fo_sd, msn_fo_sd],
          [msn_fp_blue, msn_fp_green, msn_fp_red, msn_fp_mag], msn_fp_sd,
          (495.3, 911.7) + BOT_Y, [0.1605, 0.50], [0, 200], X_TICKS_BOT, Y_TICKS_BOT, ".2f"),
    panel(X_BOT, msi_nu_x, msi_nu_y, msi_nu_lo, msi_nu_hi, msi_budget, msi_budget_sd,
          [msi_fo_blue, msi_fo_green, msi_fo_red, msi_fo_mag],
          [msi_fo_blue_sd, msi_fo_sd, msi_fo_sd, msi_fo_sd],
          [msi_fp_blue, msi_fp_green, msi_fp_red, msi_fp_mag], msi_fp_sd,
          (942.3, 1357.7) + BOT_Y, [0.1605, 0.50], [0, 200], X_TICKS_BOT, Y_TICKS_BOT, ".2f"),
]

# sanity checks on list lengths
for i, p in enumerate(PANELS):
    n = len(p["x"])
    lists = [p["nu_lo"], p["nu_hi"], p["bud"], p["bud_sd"], p["fp_sd"]] + p["fo"] + p["fo_sd"] + p["fp"]
    for k, l in enumerate(lists):
        assert len(l) == n, (i, k, len(l), n)
    assert len(p["nu_x"]) == len(p["nu_y"]), (i, len(p["nu_x"]), len(p["nu_y"]))

fig = go.Figure()


def band(x, lo, hi, color, xa, ya):
    fig.add_trace(go.Scatter(x=list(x) + list(x)[::-1], y=list(hi) + list(lo)[::-1],
                             fill="toself", fillcolor=color, mode="lines", line=dict(width=0),
                             hoverinfo="skip", showlegend=False, xaxis=xa, yaxis=ya))


def line(x, y, color, dash, xa, ya, name):
    fig.add_trace(go.Scatter(x=x, y=y, mode="lines", name=name,
                             line=dict(color=color, width=1, dash=dash),
                             showlegend=False, xaxis=xa, yaxis=ya))


layout_axes = {}
for i, p in enumerate(PANELS):
    k = "" if i == 0 else str(i + 1)
    xa, ya = "x" + k, "y" + k
    x = p["x"]
    # bands
    band(x, p["nu_lo"], p["nu_hi"], GRAY_BAND, xa, ya)
    band(x, [m - s for m, s in zip(p["bud"], p["bud_sd"])],
         [m + s for m, s in zip(p["bud"], p["bud_sd"])], GRAY_BAND, xa, ya)
    for c in range(4):
        m, s = p["fo"][c], p["fo_sd"][c]
        band(x, [a - b for a, b in zip(m, s)], [a + b for a, b in zip(m, s)], BAND_COLORS[c], xa, ya)
    for c in range(4):
        m, s = p["fp"][c], p["fp_sd"]
        band(x, [a - b for a, b in zip(m, s)], [a + b for a, b in zip(m, s)], BAND_COLORS[c], xa, ya)
    # lines
    line(p["nu_x"], p["nu_y"], BLACK, DASH, xa, ya, PDGD_LABELS[0])
    line(x, p["bud"], BLACK, "solid", xa, ya, PDGD_LABELS[1])
    for c in range(4):
        line(x, p["fo"][c], LINE_COLORS[c], DASH, xa, ya, FOLTR_LABELS[c])
    for c in range(4):
        line(x, p["fp"][c], LINE_COLORS[c], "solid", xa, ya, FPDGD_LABELS[c])

    x0, x1, y0, y1 = p["box"]
    common = dict(showline=True, mirror=True, linecolor=SPINE, linewidth=1, showgrid=False,
                  zeroline=False, ticks="outside", ticklen=3.5, tickwidth=1, tickcolor=SPINE,
                  tickfont=dict(family=FONT, size=9.5, color=TXT))
    layout_axes["xaxis" + k] = dict(domain=[P(x0), P(x1)], range=p["xr"], anchor=ya,
                                    tickmode="array", tickvals=p["xt"], ticklabelstandoff=-5, **common)
    layout_axes["yaxis" + k] = dict(domain=[Q(y1), Q(y0)], range=p["yr"], anchor=xa,
                                    tickmode="array", tickvals=p["yt"], tickformat=p["yfmt"],
                                    ticklabelstandoff=-3, **common)

fig.update_layout(width=W, height=H, margin=dict(l=0, r=0, t=0, b=0),
                  paper_bgcolor="white", plot_bgcolor="white", showlegend=False,
                  **layout_axes)

annotations = []
shapes = []


def text(x, y, s, size, xanchor="center", angle=0, family=FONT, color=TXT):
    annotations.append(dict(x=P(x), y=Q(y), xref="paper", yref="paper", text=s, showarrow=False,
                            xanchor=xanchor, yanchor="middle", textangle=angle,
                            font=dict(family=family, size=size, color=color)))


# titles, axis labels
for i, p in enumerate(PANELS):
    x0, x1, y0, y1 = p["box"]
    cx = (x0 + x1) / 2
    row_top = i < 3
    text(cx, 12 if row_top else 359, PANEL_TITLES[i % 3], 12)
    text(cx, 282 if row_top else 631, X_LABEL, 12.5)
text(16, 141, Y_LABEL, 12.5, angle=-90)
text(16, 489, Y_LABEL, 12.5, angle=-90)
text(684, 312, CAPTIONS[0], 17, family="Liberation Serif", color="#111")
text(687, 662, CAPTIONS[1], 17, family="Liberation Serif", color="#111")


# manual legends
def legend_box(x0, x1, y0, y1):
    shapes.append(dict(type="rect", xref="paper", yref="paper", x0=P(x0), x1=P(x1), y0=Q(y1), y1=Q(y0),
                       fillcolor="rgba(255,255,255,0.8)", line=dict(color="#d0d0d0", width=1), layer="above"))


def legend_item(xs, y, length, color, dash, label, opacity=1.0):
    shapes.append(dict(type="line", xref="paper", yref="paper", x0=P(xs), x1=P(xs + length),
                       y0=Q(y), y1=Q(y), line=dict(color=color, width=1.2, dash=dash),
                       opacity=opacity, layer="above"))
    text(xs + length + 4, y, label, 8, xanchor="left")


# top row
legend_box(57, 191, 22, 48)
legend_item(61, 30.5, 18, BLACK, DASH, PDGD_LABELS[0])
legend_item(61, 42, 18, BLACK, "solid", PDGD_LABELS[1])
legend_box(57, 460, 229, 257)
top_cols = [60, 167, 268, 370]
for c in range(4):
    legend_item(top_cols[c], 237, 19, LINE_COLORS[c], DASH, FOLTR_LABELS[c], opacity=0.6)
    legend_item(top_cols[c], 249, 19, LINE_COLORS[c], "solid", FPDGD_LABELS[c], opacity=0.6)

# bottom row
legend_box(53, 186, 370, 397)
legend_item(56, 377, 17, BLACK, DASH, PDGD_LABELS[0])
legend_item(56, 389, 17, BLACK, "solid", PDGD_LABELS[1])
legend_box(51, 458, 578, 606)
bot_cols = [55, 162, 263, 365]
for c in range(4):
    legend_item(bot_cols[c], 586, 19, LINE_COLORS[c], DASH, FOLTR_LABELS[c])
    legend_item(bot_cols[c], 598, 19, LINE_COLORS[c], "solid", FPDGD_LABELS[c])

fig.update_layout(annotations=annotations, shapes=shapes)
fig.write_html("out.html", config={"displayModeBar": False},
               post_script="document.body.style.margin='0';document.body.style.padding='0';"
                           "document.documentElement.style.overflow='hidden';")
